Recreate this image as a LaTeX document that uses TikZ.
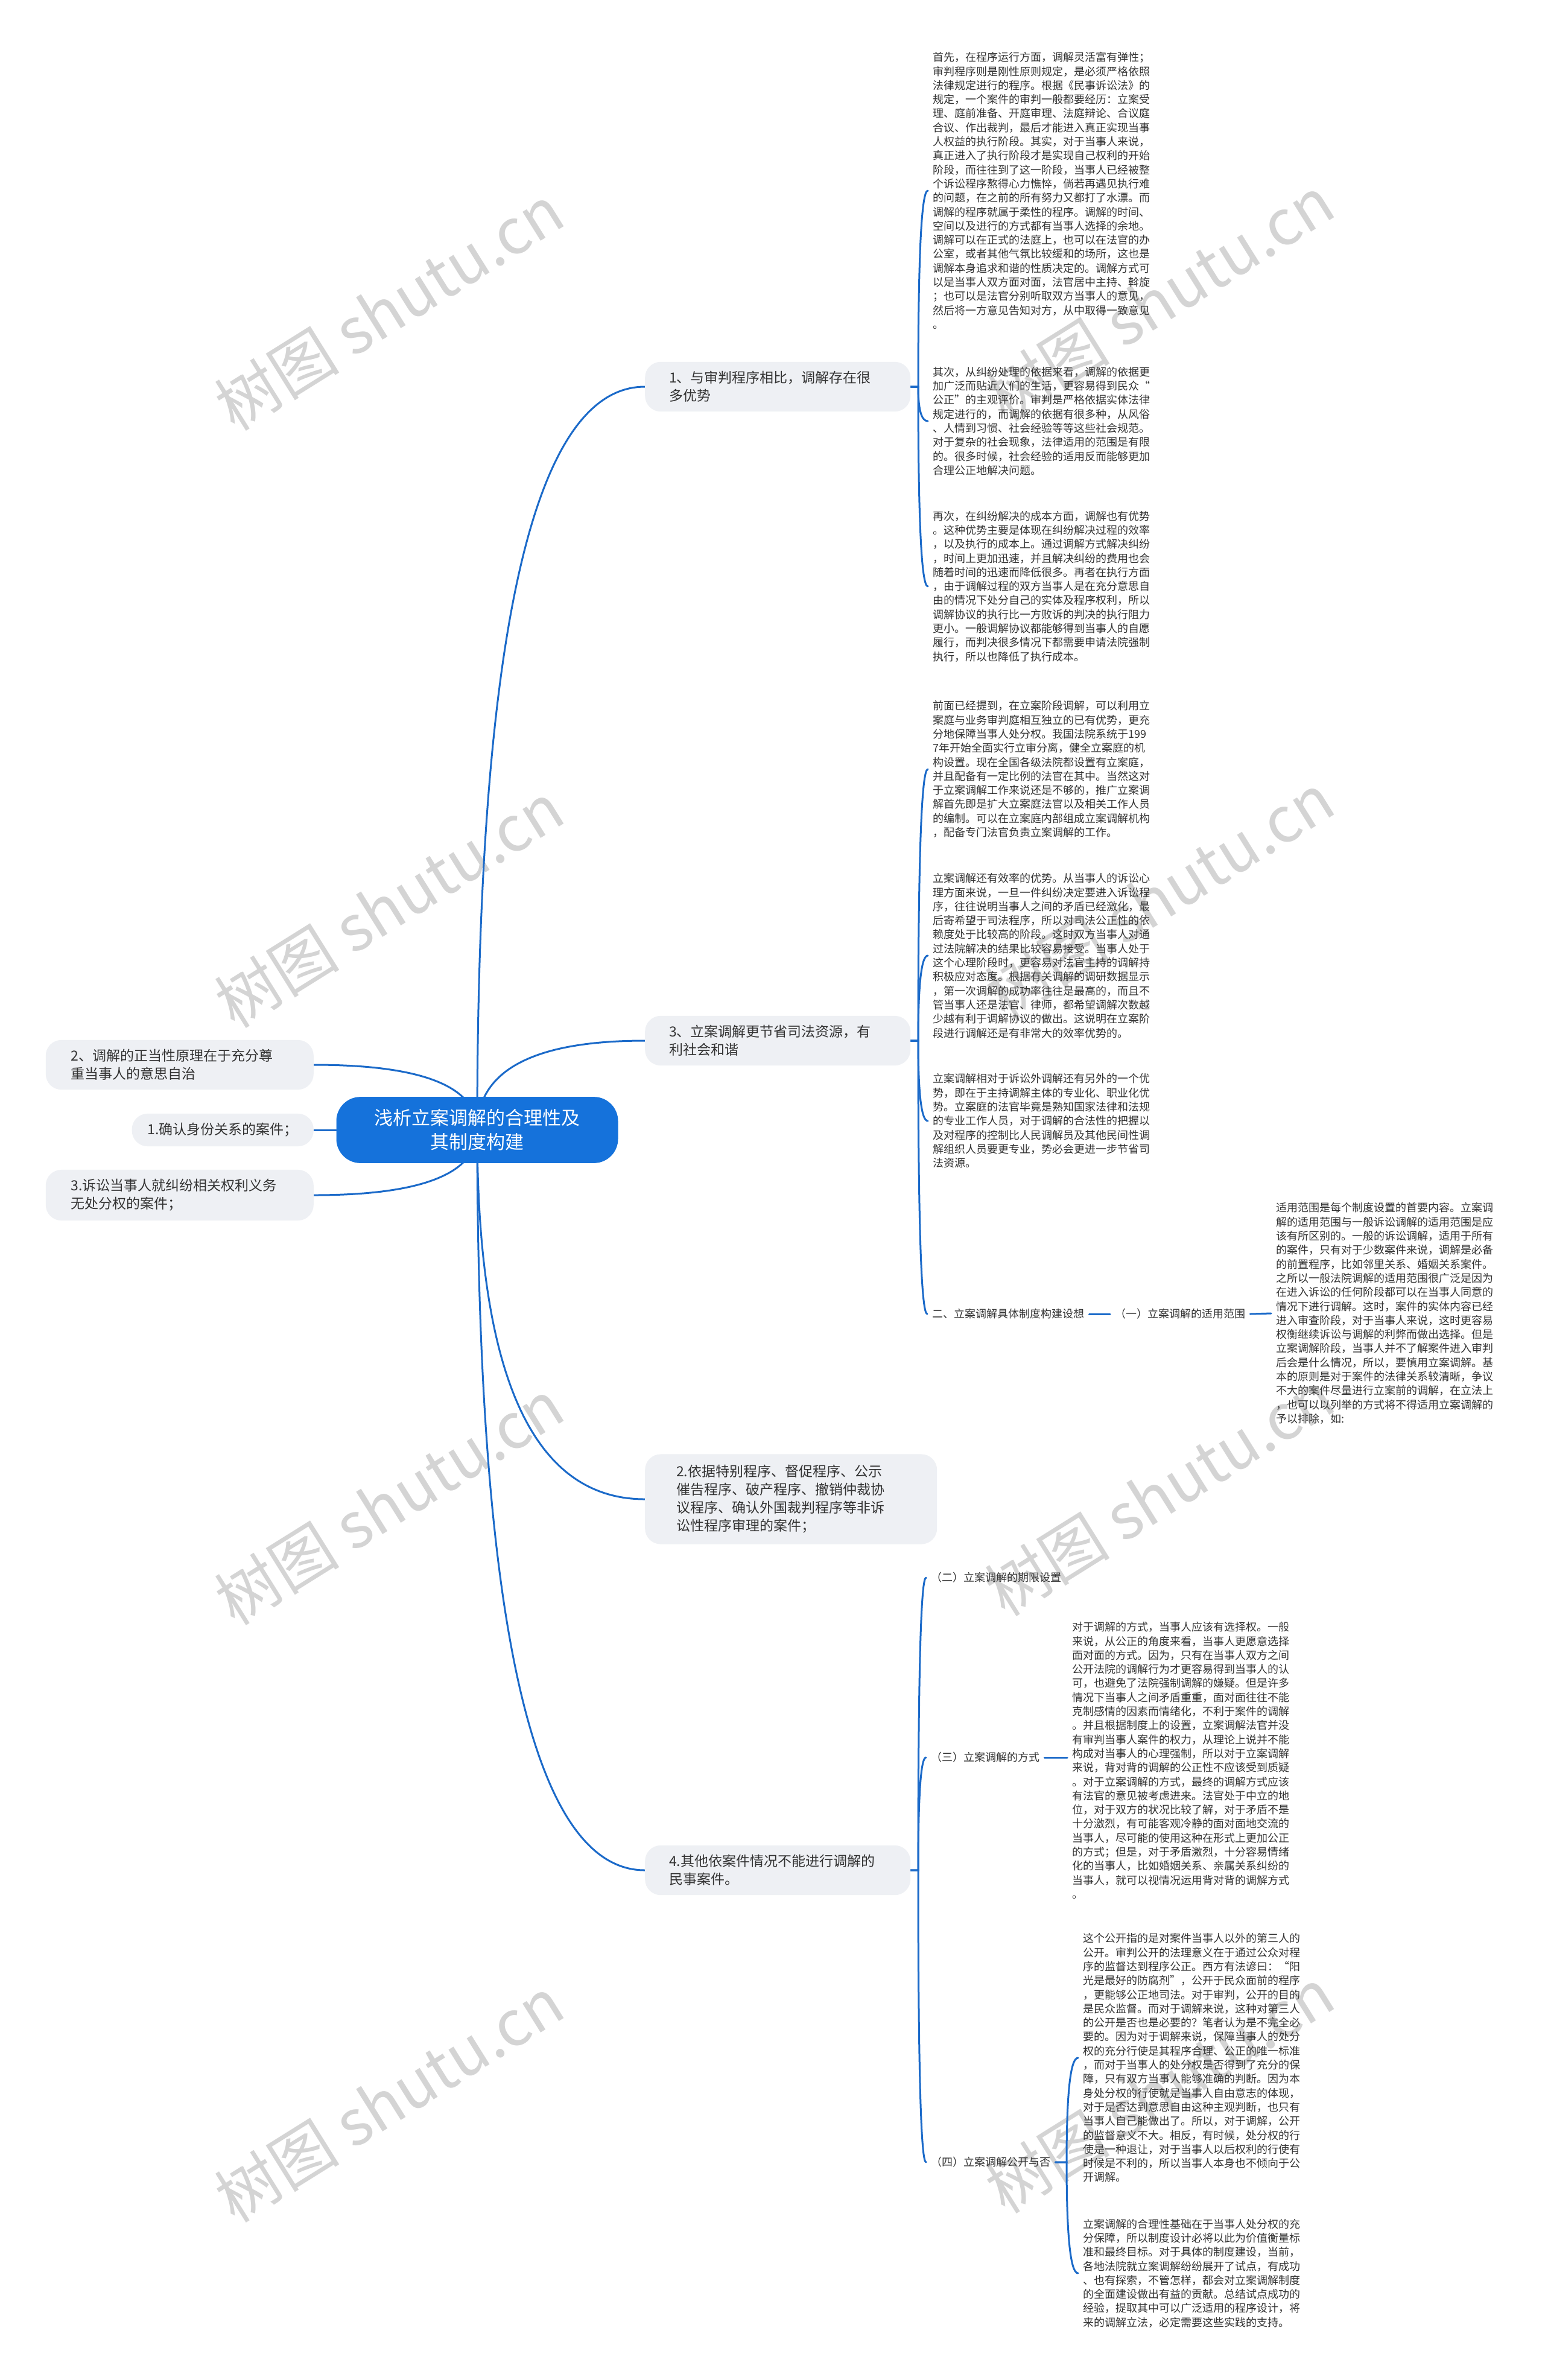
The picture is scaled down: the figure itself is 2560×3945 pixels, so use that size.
\documentclass[tikz,border=0pt]{standalone}
\usepackage{fontspec}
\setmainfont{Noto Sans CJK SC}
\usetikzlibrary{calc}
\pgfdeclarelayer{bg}
\pgfdeclarelayer{paper}
\pgfsetlayers{paper,bg,main}
\definecolor{lineblue}{HTML}{1B6AC9}
\definecolor{rootblue}{HTML}{1572DB}
\definecolor{nodegrey}{HTML}{EEF0F4}
\definecolor{txt}{HTML}{333333}
\definecolor{wm}{HTML}{D4D4D4}
\tikzset{
 conn/.style={draw=lineblue, line width=3pt, line cap=round},
 root/.style={fill=rootblue, text=white, rounded corners=40pt, inner xsep=63pt, inner ysep=20.5pt, align=center, font=\fontsize{31}{40}\selectfont},
 topic/.style={fill=nodegrey, text=txt, rounded corners=26pt, inner ysep=15.5pt, font=\fontsize{23}{30}\selectfont},
 topicw/.style={topic, text width=360pt, align=left, inner xsep=40pt},
 para/.style={text=txt, inner xsep=8pt, inner ysep=0pt, align=left, font=\fontsize{18}{23.3}\selectfont, anchor=west},
 lbl/.style={text=txt, inner xsep=8pt, inner ysep=2pt, font=\fontsize{18}{23.3}\selectfont, anchor=west},
 wmark/.style={text=wm, rotate=32, font=\fontsize{104}{110}\selectfont}
}
% quadratic connector from point #1 to point #2 with control (x1,y2)
\newcommand\qconn[2]{%
 \draw[conn] let \p1=(#1), \p2=(#2) in (\p1) .. controls (\x1,{\y1+2/3*(\y2-\y1)}) and ({\x2+2/3*(\x1-\x2)},\y2) .. (\p2);}
% bracket connector: parent east, short stub to x=#3, then curve to child west
\newcommand\bconn[3]{%
 \draw[conn] let \p1=(#1.east), \p2=(#2.west) in (\p1) -- (#3,\y1) .. controls (#3,{\y1+2/3*(\y2-\y1)}) and ({\x2+2/3*(#3-\x2)},\y2) .. (\p2);}
\begin{document}
\begin{tikzpicture}[x=1pt,y=-1pt]
\useasboundingbox (0,0) rectangle (2560,3945);
\begin{pgfonlayer}{paper}
\fill[white] (0,0) rectangle (2560,3945);
\end{pgfonlayer}

% root
\node[root] (root) at (791,1873) {浅析立案调解的合理性及\\其制度构建};

% left children
\node[topicw, anchor=east, inner xsep=42pt] (l2) at (520,1765) {2、调解的正当性原理在于充分尊\\重当事人的意思自治};
\node[topic, anchor=east, inner xsep=26pt] (l1) at (520,1873) {1.确认身份关系的案件；};
\node[topicw, anchor=east, inner xsep=42pt] (l3) at (520,1981) {3.诉讼当事人就纠纷相关权利义务\\无处分权的案件；};

% right children
\node[topicw, anchor=west] (n1) at (1069,641) {1、与审判程序相比，调解存在很\\多优势};
\node[topicw, anchor=west] (n3) at (1069,1725) {3、立案调解更节省司法资源，有\\利社会和谐};
\node[topic, anchor=west, text width=380pt, align=left, inner xsep=52pt, inner ysep=18pt] (n2) at (1069,2485) {2.依据特别程序、督促程序、公示\\催告程序、破产程序、撤销仲裁协\\议程序、确认外国裁判程序等非诉\\讼性程序审理的案件；};
\node[topicw, anchor=west] (n4) at (1069,3100) {4.其他依案件情况不能进行调解的\\民事案件。};

% paragraphs under 1
\node[para] (p1) at (1538,316) {首先，在程序运行方面，调解灵活富有弹性；\\审判程序则是刚性原则规定，是必须严格依照\\法律规定进行的程序。根据《民事诉讼法》的\\规定，一个案件的审判一般都要经历：立案受\\理、庭前准备、开庭审理、法庭辩论、合议庭\\合议、作出裁判，最后才能进入真正实现当事\\人权益的执行阶段。其实，对于当事人来说，\\真正进入了执行阶段才是实现自己权利的开始\\阶段，而往往到了这一阶段，当事人已经被整\\个诉讼程序熬得心力憔悴，倘若再遇见执行难\\的问题，在之前的所有努力又都打了水漂。而\\调解的程序就属于柔性的程序。调解的时间、\\空间以及进行的方式都有当事人选择的余地。\\调解可以在正式的法庭上，也可以在法官的办\\公室，或者其他气氛比较缓和的场所，这也是\\调解本身追求和谐的性质决定的。调解方式可\\以是当事人双方面对面，法官居中主持、斡旋\\；也可以是法官分别听取双方当事人的意见，\\然后将一方意见告知对方，从中取得一致意见\\。};
\node[para] (p2) at (1538,698) {其次，从纠纷处理的依据来看，调解的依据更\\加广泛而贴近人们的生活，更容易得到民众“\\公正”的主观评价。审判是严格依据实体法律\\规定进行的，而调解的依据有很多种，从风俗\\、人情到习惯、社会经验等等这些社会规范。\\对于复杂的社会现象，法律适用的范围是有限\\的。很多时候，社会经验的适用反而能够更加\\合理公正地解决问题。};
\node[para] (p3) at (1538,972) {再次，在纠纷解决的成本方面，调解也有优势\\。这种优势主要是体现在纠纷解决过程的效率\\，以及执行的成本上。通过调解方式解决纠纷\\，时间上更加迅速，并且解决纠纷的费用也会\\随着时间的迅速而降低很多。再者在执行方面\\，由于调解过程的双方当事人是在充分意思自\\由的情况下处分自己的实体及程序权利，所以\\调解协议的执行比一方败诉的判决的执行阻力\\更小。一般调解协议都能够得到当事人的自愿\\履行，而判决很多情况下都需要申请法院强制\\执行，所以也降低了执行成本。};

% paragraphs under 3
\node[para] (p4) at (1538,1275) {前面已经提到，在立案阶段调解，可以利用立\\案庭与业务审判庭相互独立的已有优势，更充\\分地保障当事人处分权。我国法院系统于199\\7年开始全面实行立审分离，健全立案庭的机\\构设置。现在全国各级法院都设置有立案庭，\\并且配备有一定比例的法官在其中。当然这对\\于立案调解工作来说还是不够的，推广立案调\\解首先即是扩大立案庭法官以及相关工作人员\\的编制。可以在立案庭内部组成立案调解机构\\，配备专门法官负责立案调解的工作。};
\node[para] (p5) at (1538,1584) {立案调解还有效率的优势。从当事人的诉讼心\\理方面来说，一旦一件纠纷决定要进入诉讼程\\序，往往说明当事人之间的矛盾已经激化，最\\后寄希望于司法程序，所以对司法公正性的依\\赖度处于比较高的阶段。这时双方当事人对通\\过法院解决的结果比较容易接受。当事人处于\\这个心理阶段时，更容易对法官主持的调解持\\积极应对态度。根据有关调解的调研数据显示\\，第一次调解的成功率往往是最高的，而且不\\管当事人还是法官、律师，都希望调解次数越\\少越有利于调解协议的做出。这说明在立案阶\\段进行调解还是有非常大的效率优势的。};
\node[para] (p6) at (1538,1858) {立案调解相对于诉讼外调解还有另外的一个优\\势，即在于主持调解主体的专业化、职业化优\\势。立案庭的法官毕竟是熟知国家法律和法规\\的专业工作人员，对于调解的合法性的把握以\\及对程序的控制比人民调解员及其他民间性调\\解组织人员要更专业，势必会更进一步节省司\\法资源。};
\node[lbl] (s2) at (1537,2178) {二、立案调解具体制度构建设想};
\node[lbl] (s21) at (1840,2178) {（一）立案调解的适用范围};
\node[para] (p7) at (2107,2177) {适用范围是每个制度设置的首要内容。立案调\\解的适用范围与一般诉讼调解的适用范围是应\\该有所区别的。一般的诉讼调解，适用于所有\\的案件，只有对于少数案件来说，调解是必备\\的前置程序，比如邻里关系、婚姻关系案件。\\之所以一般法院调解的适用范围很广泛是因为\\在进入诉讼的任何阶段都可以在当事人同意的\\情况下进行调解。这时，案件的实体内容已经\\进入审查阶段，对于当事人来说，这时更容易\\权衡继续诉讼与调解的利弊而做出选择。但是\\立案调解阶段，当事人并不了解案件进入审判\\后会是什么情况，所以，要慎用立案调解。基\\本的原则是对于案件的法律关系较清晰，争议\\不大的案件尽量进行立案前的调解，在立法上\\，也可以以列举的方式将不得适用立案调解的\\予以排除，如:};

% under 4
\node[lbl] (s42) at (1535,2615) {（二）立案调解的期限设置};
\node[lbl] (s43) at (1535,2913) {（三）立案调解的方式};
\node[lbl] (s44) at (1535,3584) {（四）立案调解公开与否};
\node[para] (p8) at (1769,2918) {对于调解的方式，当事人应该有选择权。一般\\来说，从公正的角度来看，当事人更愿意选择\\面对面的方式。因为，只有在当事人双方之间\\公开法院的调解行为才更容易得到当事人的认\\可，也避免了法院强制调解的嫌疑。但是许多\\情况下当事人之间矛盾重重，面对面往往不能\\克制感情的因素而情绪化，不利于案件的调解\\。并且根据制度上的设置，立案调解法官并没\\有审判当事人案件的权力，从理论上说并不能\\构成对当事人的心理强制，所以对于立案调解\\来说，背对背的调解的公正性不应该受到质疑\\。对于立案调解的方式，最终的调解方式应该\\有法官的意见被考虑进来。法官处于中立的地\\位，对于双方的状况比较了解，对于矛盾不是\\十分激烈，有可能客观冷静的面对面地交流的\\当事人，尽可能的使用这种在形式上更加公正\\的方式；但是，对于矛盾激烈，十分容易情绪\\化的当事人，比如婚姻关系、亲属关系纠纷的\\当事人，就可以视情况运用背对背的调解方式\\。};
\node[para] (p9) at (1787,3411) {这个公开指的是对案件当事人以外的第三人的\\公开。审判公开的法理意义在于通过公众对程\\序的监督达到程序公正。西方有法谚曰：“阳\\光是最好的防腐剂”，公开于民众面前的程序\\，更能够公正地司法。对于审判，公开的目的\\是民众监督。而对于调解来说，这种对第三人\\的公开是否也是必要的？笔者认为是不完全必\\要的。因为对于调解来说，保障当事人的处分\\权的充分行使是其程序合理、公正的唯一标准\\，而对于当事人的处分权是否得到了充分的保\\障，只有双方当事人能够准确的判断。因为本\\身处分权的行使就是当事人自由意志的体现，\\对于是否达到意思自由这种主观判断，也只有\\当事人自己能做出了。所以，对于调解，公开\\的监督意义不大。相反，有时候，处分权的行\\使是一种退让，对于当事人以后权利的行使有\\时候是不利的，所以当事人本身也不倾向于公\\开调解。};
\node[para] (p10) at (1787,3768) {立案调解的合理性基础在于当事人处分权的充\\分保障，所以制度设计必将以此为价值衡量标\\准和最终目标。对于具体的制度建设，当前，\\各地法院就立案调解纷纷展开了试点，有成功\\、也有探索，不管怎样，都会对立案调解制度\\的全面建设做出有益的贡献。总结试点成功的\\经验，提取其中可以广泛适用的程序设计，将\\来的调解立法，必定需要这些实践的支持。};

\begin{pgfonlayer}{bg}
 % watermarks
 \foreach \wx/\wy in {645/510, 1922/495, 645/1500, 1922/1485, 645/2490, 1922/2475, 645/3480, 1922/3465}
  \node[wmark] at (\wx,\wy) {树图 shutu.cn};
 % root connectors
 \qconn{root.center}{n1.west}
 \qconn{root.center}{n3.west}
 \qconn{root.center}{n2.west}
 \qconn{root.center}{n4.west}
 \qconn{root.center}{l2.east}
 \qconn{root.center}{l3.east}
 \draw[conn] (l1.east) -- (root.west);
 % brackets
 \bconn{n1}{p1}{1522pt}
 \bconn{n1}{p2}{1522pt}
 \bconn{n1}{p3}{1522pt}
 \bconn{n3}{p4}{1522pt}
 \bconn{n3}{p5}{1522pt}
 \bconn{n3}{p6}{1522pt}
 \bconn{n3}{s2}{1522pt}
 \draw[conn] (s2.east) -- (s21.west);
 \draw[conn] (s21.east) -- (p7.west);
 \bconn{n4}{s42}{1522pt}
 \bconn{n4}{s43}{1522pt}
 \bconn{n4}{s44}{1522pt}
 \draw[conn] (s43.east) -- (s43.east -| p8.west);
 \bconn{s44}{p9}{1768pt}
 \bconn{s44}{p10}{1768pt}
\end{pgfonlayer}
\end{tikzpicture}
\end{document}
